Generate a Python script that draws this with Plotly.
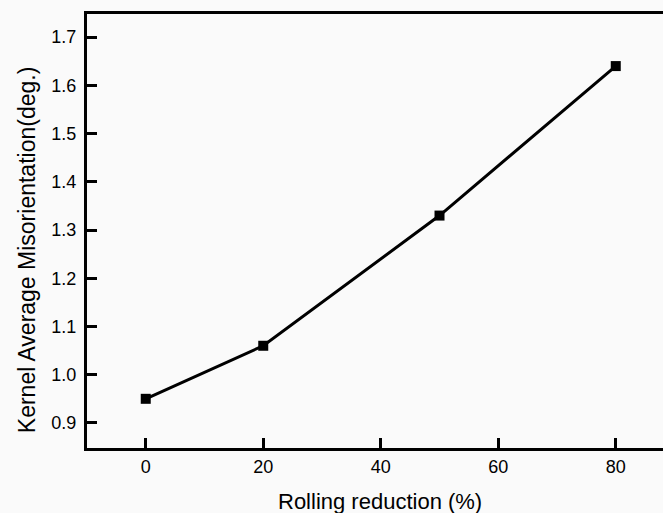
import plotly.graph_objects as go

reduction = [0, 20, 50, 80]
kam = [0.95, 1.06, 1.33, 1.64]
x_ticks = [0, 20, 40, 60, 80]
y_ticks = [0.9, 1.0, 1.1, 1.2, 1.3, 1.4, 1.5, 1.6, 1.7]
x_title = "Rolling reduction (%)"
y_title = "Kernel Average Misorientation(deg.)"

font_family = "Liberation Sans, Arial, sans-serif"

fig = go.Figure()
fig.add_trace(go.Scatter(
    x=reduction, y=kam, mode="lines+markers",
    line=dict(color="black", width=3),
    marker=dict(symbol="square", size=10, color="black"),
    showlegend=False,
))

fig.update_layout(
    width=663, height=513,
    margin=dict(l=87, r=0, t=14, b=65),
    paper_bgcolor="#fafafa", plot_bgcolor="#fafafa",
    font=dict(family=font_family, color="black", size=18),
    xaxis=dict(
        range=[-10, 88.04], tickvals=x_ticks, ticktext=[str(v) for v in x_ticks],
        ticks="inside", ticklen=10, tickwidth=2.5, tickcolor="black",
        showline=True, linewidth=3, linecolor="black", mirror=True,
        showgrid=False, zeroline=False,
        tickfont=dict(size=18, family=font_family),
    ),
    yaxis=dict(
        range=[0.848, 1.748], tickvals=y_ticks, ticktext=[f"{v:.1f}" for v in y_ticks],
        ticks="inside", ticklen=10, tickwidth=2.5, tickcolor="black",
        showline=True, linewidth=3, linecolor="black", mirror=False,
        showgrid=False, zeroline=False,
        tickfont=dict(size=18, family=font_family),
        ticklabelstandoff=4,
    ),
    annotations=[
        dict(text=x_title, xref="paper", yref="paper", x=0.5087, y=-0.1244,
             xanchor="center", yanchor="middle", showarrow=False,
             font=dict(size=22, family=font_family, color="black")),
        dict(text=y_title, xref="paper", yref="paper", x=-0.104, y=0.456,
             xanchor="center", yanchor="middle", showarrow=False, textangle=-90,
             font=dict(size=23, family=font_family, color="black")),
    ],
)

fig.write_html("out.html")
